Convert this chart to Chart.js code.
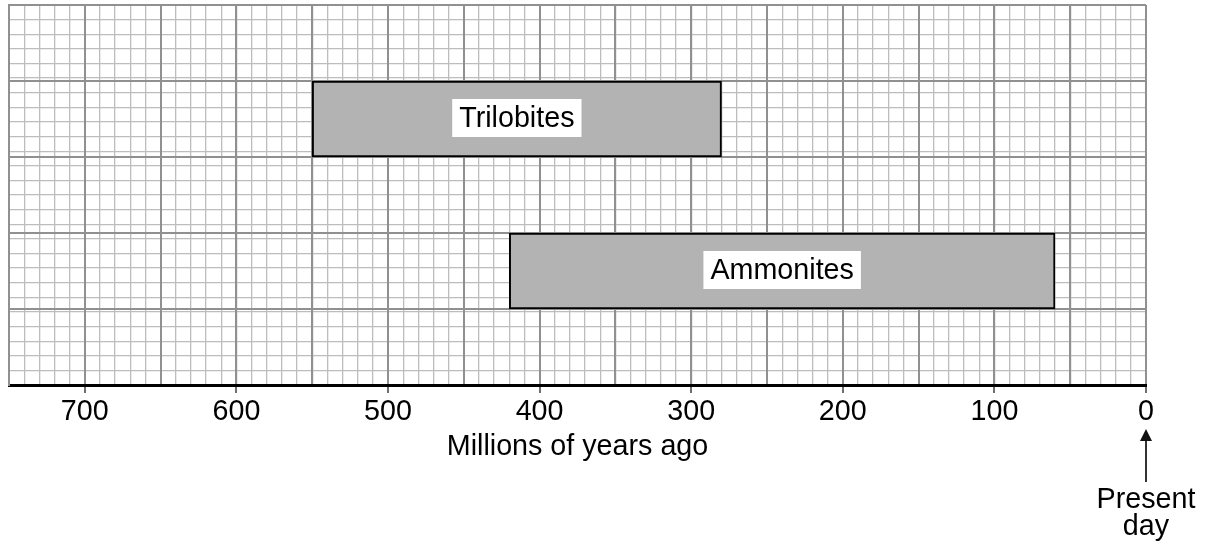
<!DOCTYPE html>
<html>
<head>
<meta charset="utf-8">
<script src="https://cdn.jsdelivr.net/npm/chart.js@4.4.1/dist/chart.umd.min.js"></script>
<style>
  html, body { margin: 0; padding: 0; background: #ffffff; }
  #wrap { width: 1208px; height: 547px; }
</style>
</head>
<body>
<div id="wrap"><canvas id="c" width="1208" height="547"></canvas></div>
<script>
// ---- data ----
const bands = ['', 'Trilobites', '', 'Ammonites', ''];
const spanStart = [null, 550, null, 420, null];   // millions of years ago (older end)
const spanEnd   = [null, 280, null, 60, null];    // millions of years ago (younger end)
const axisMin = 0;
const axisMax = 750;
const majorStep = 50;
const labelStep = 100;
const minorStep = 10;
const minorRows = 25;
const axisTitle = 'Millions of years ago';
const presentLabel = ['Present', 'day'];

const FONT = '"Liberation Sans", Arial, Helvetica, sans-serif';
const FS = 28.7;
const MAJOR = '#909090';
const MINOR = '#bdbdbd';

const barData = bands.map((b, i) => spanStart[i] === null ? null : [spanEnd[i], spanStart[i]]);

const barLabelPlugin = {
  id: 'barLabels',
  afterDatasetsDraw(chart) {
    const ctx = chart.ctx;
    const meta = chart.getDatasetMeta(0);
    ctx.save();
    ctx.font = FS + 'px ' + FONT;
    ctx.textAlign = 'center';
    ctx.textBaseline = 'middle';
    meta.data.forEach((el, i) => {
      if (barData[i] === null) return;
      const txt = bands[i];
      const props = el.getProps(['x', 'y', 'base'], true);
      const cx = (props.x + props.base) / 2;
      const cy = props.y - 1;
      const w = ctx.measureText(txt).width + 14;
      const h = 38;
      ctx.fillStyle = '#ffffff';
      ctx.fillRect(cx - w / 2, cy - h / 2, w, h);
      ctx.fillStyle = '#000000';
      ctx.fillText(txt, cx, cy + 1);
    });
    ctx.restore();
  }
};

const presentPlugin = {
  id: 'presentDay',
  afterDraw(chart) {
    const ctx = chart.ctx;
    const x = Math.round(chart.scales.x.getPixelForValue(0)) ;
    ctx.save();
    ctx.strokeStyle = '#333333';
    ctx.fillStyle = '#111111';
    ctx.lineWidth = 2;
    ctx.beginPath();
    ctx.moveTo(x, 482);
    ctx.lineTo(x, 440);
    ctx.stroke();
    ctx.beginPath();
    ctx.moveTo(x, 429);
    ctx.lineTo(x - 6, 441);
    ctx.lineTo(x + 6, 441);
    ctx.closePath();
    ctx.fill();
    ctx.fillStyle = '#000000';
    ctx.font = FS + 'px ' + FONT;
    ctx.textAlign = 'center';
    ctx.textBaseline = 'alphabetic';
    ctx.fillText(presentLabel[0], x, 508);
    ctx.fillText(presentLabel[1], x, 535);
    ctx.restore();
  }
};

new Chart(document.getElementById('c'), {
  type: 'bar',
  data: {
    labels: bands,
    datasets: [{
      data: barData,
      backgroundColor: '#b3b3b3',
      borderColor: '#000000',
      borderWidth: 2,
      borderSkipped: false,
      categoryPercentage: 1,
      barPercentage: 1
    }]
  },
  options: {
    indexAxis: 'y',
    responsive: false,
    animation: false,
    devicePixelRatio: 1,
    layout: { padding: { left: 9, top: 5, right: 62, bottom: 0 } },
    plugins: { legend: { display: false }, tooltip: { enabled: false } },
    scales: {
      x: {
        type: 'linear',
        position: 'bottom',
        reverse: true,
        min: axisMin,
        max: axisMax,
        afterFit(scale) { scale.height = 162; },
        ticks: {
          stepSize: majorStep,
          autoSkip: false,
          maxRotation: 0,
          padding: 2,
          color: '#000000',
          font: { family: FONT, size: FS },
          callback: (v) => (v % labelStep === 0 ? String(v) : '')
        },
        grid: {
          color: MAJOR,
          lineWidth: 2,
          z: -1,
          drawTicks: true,
          tickLength: 8,
          tickWidth: 2,
          tickColor: (c) => (c.tick && c.tick.value % labelStep === 0 ? '#707070' : 'rgba(0,0,0,0)')
        },
        border: { display: true, color: '#000000', width: 3 },
        title: {
          display: true,
          text: axisTitle,
          color: '#000000',
          font: { family: FONT, size: FS },
          padding: { top: 0, bottom: 83 }
        }
      },
      xMinor: {
        type: 'linear',
        position: 'bottom',
        reverse: true,
        min: axisMin,
        max: axisMax,
        ticks: { display: false, stepSize: minorStep, autoSkip: false },
        grid: { color: MINOR, lineWidth: 1.3, z: -2, drawTicks: false },
        border: { display: false }
      },
      y: {
        type: 'category',
        position: 'left',
        offset: true,
        ticks: { display: false },
        grid: { color: MAJOR, lineWidth: 2, z: -1, drawTicks: false, offset: true },
        border: { display: true, color: MAJOR, width: 2 }
      },
      yMinor: {
        type: 'linear',
        position: 'left',
        min: 0,
        max: minorRows,
        ticks: { display: false, stepSize: 1, autoSkip: false },
        grid: { color: MINOR, lineWidth: 1.3, z: -2, drawTicks: false },
        border: { display: false }
      }
    }
  },
  plugins: [barLabelPlugin, presentPlugin]
});
</script>
</body>
</html>
